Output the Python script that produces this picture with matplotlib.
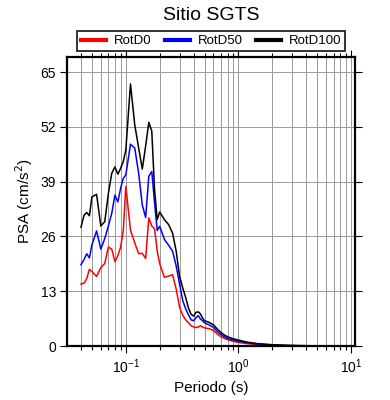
import matplotlib
matplotlib.use("Agg")
import matplotlib.pyplot as plt
from matplotlib.ticker import LogLocator, FixedLocator, NullFormatter

plt.rcParams['font.family'] = ['Liberation Sans', 'DejaVu Sans']

# periodos (s)
periodos = [0.040, 0.0425, 0.045, 0.0475, 0.050, 0.055, 0.060, 0.065, 0.070, 0.075,
            0.080, 0.085, 0.090, 0.095, 0.100, 0.110, 0.120, 0.130, 0.140, 0.150,
            0.160, 0.170, 0.180, 0.190, 0.200, 0.220, 0.240, 0.260, 0.280, 0.300,
            0.320, 0.340, 0.360, 0.380, 0.400, 0.420, 0.440, 0.460, 0.480, 0.500,
            0.550, 0.600, 0.650, 0.700, 0.750, 0.800, 0.900, 1.0, 1.2, 1.5,
            2.0, 2.5, 3.0, 4.0, 5.0, 7.0, 10.0]

rotd0 = [14.7, 14.9, 16.0, 18.2, 17.7, 16.5, 18.6, 19.6, 23.5, 23.0,
         20.0, 21.5, 23.5, 27.5, 37.9, 27.5, 24.5, 21.9, 22.0, 20.8,
         30.4, 28.5, 27.8, 22.5, 19.5, 16.3, 16.6, 16.9, 13.5, 9.2,
         7.3, 6.2, 5.5, 4.8, 4.5, 4.4, 4.5, 4.8, 4.5, 4.3,
         4.1, 3.7, 2.8, 2.2, 1.8, 1.5, 1.1, 0.85, 0.55, 0.33,
         0.18, 0.10, 0.07, 0.04, 0.03, 0.02, 0.01]

rotd50 = [19.3, 20.5, 21.9, 20.9, 24.0, 27.3, 23.0, 25.5, 28.5, 31.5,
          35.8, 34.2, 37.5, 39.8, 40.6, 47.9, 47.0, 41.0, 33.5, 30.5,
          40.3, 41.4, 34.0, 27.4, 28.4, 25.3, 23.9, 22.5, 19.0, 14.7,
          10.8, 8.8, 7.4, 6.2, 6.0, 6.8, 7.2, 6.4, 6.0, 5.5,
          5.0, 4.4, 3.4, 2.7, 2.2, 1.8, 1.4, 1.1, 0.75, 0.45,
          0.25, 0.15, 0.10, 0.06, 0.04, 0.025, 0.015]

rotd100 = [28.2, 31.0, 31.7, 30.9, 35.4, 36.0, 28.5, 29.5, 36.2, 41.0,
           42.5, 40.8, 42.2, 43.8, 46.5, 62.2, 52.5, 47.0, 42.0, 47.5,
           53.1, 51.0, 37.0, 30.0, 31.8, 30.0, 28.8, 26.8, 22.5, 16.5,
           13.8, 11.5, 9.0, 7.5, 7.1, 8.0, 8.1, 7.6, 6.6, 6.0,
           5.6, 5.0, 4.0, 3.2, 2.6, 2.2, 1.7, 1.4, 0.9, 0.55,
           0.30, 0.18, 0.12, 0.07, 0.05, 0.03, 0.02]

series = [("RotD0", rotd0, "#ff0000"),
          ("RotD50", rotd50, "#0000ff"),
          ("RotD100", rotd100, "#000000")]

yticks = [0, 13, 26, 39, 52, 65]

fig = plt.figure(figsize=(3.9, 4.0), dpi=100)
ax = fig.add_axes([0.172, 0.135, 0.738, 0.7225])

ax.set_xscale('log')
ax.set_xlim(0.0301, 10.8)
ax.set_ylim(0, 68.6)

ax.xaxis.set_major_locator(LogLocator(base=10))
ax.xaxis.set_minor_locator(LogLocator(base=10, subs=range(2, 10)))
ax.xaxis.set_minor_formatter(NullFormatter())
ax.yaxis.set_major_locator(FixedLocator(yticks))

ax.grid(True, which='both', axis='x', color='#999999', lw=0.7)
ax.grid(True, which='major', axis='y', color='#999999', lw=0.7)
ax.set_axisbelow(True)

for nome, vals, cor in series:
    ax.plot(periodos, vals, color=cor, lw=1.1, label=nome)

for s in ax.spines.values():
    s.set_linewidth(1.6)

ax.tick_params(which='both', direction='out', top=True, right=True,
               labelsize=10, width=0.8)
ax.tick_params(which='major', length=5, pad=3)
ax.tick_params(which='minor', length=3)

ax.set_xlabel("Periodo (s)", fontsize=11, labelpad=4)
ax.set_ylabel("PSA (cm/s$^2$)", fontsize=11, labelpad=4)
ax.set_title("Sitio SGTS", fontsize=14, pad=27)

leg = ax.legend(loc='lower center', bbox_to_anchor=(0.5, 1.02), ncol=3,
                frameon=True, fancybox=False, fontsize=9.5, handlelength=1.9,
                columnspacing=1.0, borderpad=0.3, handletextpad=0.6,
                borderaxespad=0)
leg.get_frame().set_edgecolor('black')
leg.get_frame().set_linewidth(1.4)
for h in leg.get_lines():
    h.set_linewidth(3)

fig.savefig("out.png", dpi=100)
